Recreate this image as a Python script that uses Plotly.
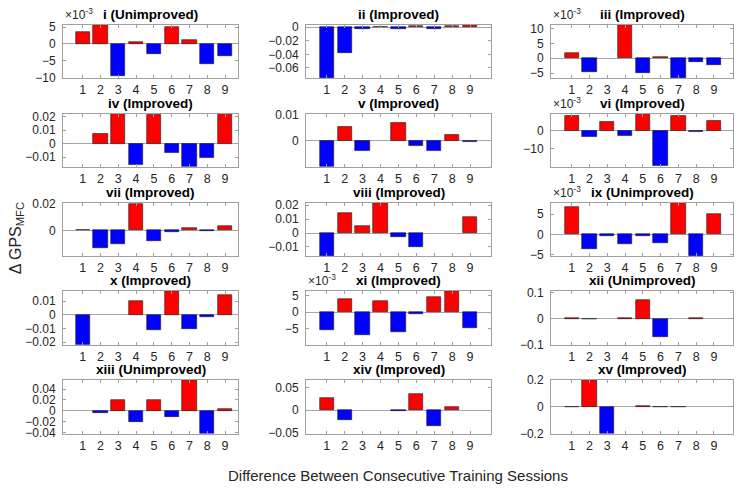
import plotly.graph_objects as go

sessions = [1, 2, 3, 4, 5, 6, 7, 8, 9]
session_labels = ["1", "2", "3", "4", "5", "6", "7", "8", "9"]

titles = ["i (Unimproved)", "ii (Improved)", "iii (Improved)",
          "iv (Improved)", "v (Improved)", "vi (Improved)",
          "vii (Improved)", "viii (Improved)", "ix (Unimproved)",
          "x (Improved)", "xi (Improved)", "xii (Unimproved)",
          "xiii (Unimproved)", "xiv (Improved)", "xv (Improved)"]

v_i = [0.0036, 0.0056, -0.0095, 0.0007, -0.0029, 0.0050, 0.0013, -0.0060, -0.0035]
v_ii = [-0.075, -0.038, -0.0022, 0.0005, -0.0022, 0.0012, -0.0022, 0.0012, 0.0030]
v_iii = [0.0017, -0.0047, 0.0, 0.0112, -0.0050, 0.0006, -0.0067, -0.0013, -0.0022]
v_iv = [0.0, 0.0072, 0.0222, -0.0160, 0.0215, -0.0070, -0.0171, -0.0104, 0.0220]
v_v = [-0.0099, 0.0053, -0.0040, 0.0, 0.0068, -0.0020, -0.0040, 0.0022, -0.0005]
v_vi = [0.0080, -0.0032, 0.0048, -0.0027, 0.0092, -0.0195, 0.0080, -0.0008, 0.0056]
v_vii = [0.0007, -0.0130, -0.0099, 0.0200, -0.0075, -0.0008, 0.0020, -0.0003, 0.0034]
v_viii = [-0.0168, 0.0142, 0.0049, 0.0216, -0.0025, -0.0102, 0.0, 0.0, 0.0117]
v_ix = [0.0067, -0.0035, -0.0003, -0.0024, -0.0004, -0.0021, 0.0077, -0.0054, 0.0049]
v_x = [-0.0221, 0.0, 0.0, 0.0100, -0.0114, 0.0174, -0.0102, -0.0017, 0.0148]
v_xi = [-0.0053, 0.0039, -0.0069, 0.0034, -0.0061, -0.0006, 0.0046, 0.0064, -0.0047]
v_xii = [0.001, -0.001, 0.0, 0.004, 0.071, -0.072, 0.0, 0.002, 0.0]
v_xiii = [0.0, -0.003, 0.020, -0.020, 0.021, -0.012, 0.057, -0.042, 0.003]
v_xiv = [0.026, -0.022, 0.0, 0.0, -0.002, 0.037, -0.035, 0.0065, 0.0]
v_xv = [0.002, 0.2, -0.2, 0.0, 0.004, 0.002, -0.002, 0.0, 0.0]

values = [v_i, v_ii, v_iii, v_iv, v_v, v_vi, v_vii, v_viii, v_ix,
          v_x, v_xi, v_xii, v_xiii, v_xiv, v_xv]

ytickvals = [[-0.01, -0.005, 0, 0.005], [-0.06, -0.04, -0.02, 0], [-0.005, 0, 0.005, 0.01],
             [-0.01, 0, 0.01, 0.02], [-0.01, 0, 0.01], [-0.02, -0.01, 0],
             [-0.02, 0, 0.02], [-0.01, 0, 0.01, 0.02], [-0.005, 0, 0.005],
             [-0.02, -0.01, 0, 0.01], [-0.01, -0.005, 0, 0.005], [-0.1, 0, 0.1],
             [-0.04, -0.02, 0, 0.02, 0.04], [-0.05, 0, 0.05], [-0.2, 0, 0.2]]
yticktext = [["−10", "−5", "0", "5"], ["−0.06", "−0.04", "−0.02", "0"], ["−5", "0", "5", "10"],
             ["−0.01", "0", "0.01", "0.02"], ["−0.01", "0", "0.01"], ["−20", "−10", "0"],
             ["−0.02", "0", "0.02"], ["−0.01", "0", "0.01", "0.02"], ["−5", "0", "5"],
             ["−0.02", "−0.01", "0", "0.01"], ["−10", "−5", "0", "5"], ["−0.1", "0", "0.1"],
             ["−0.04", "−0.02", "0", "0.02", "0.04"], ["−0.05", "0", "0.05"], ["−0.2", "0", "0.2"]]
scaled = [True, False, True, False, False, True, False, False, True,
          False, True, False, False, False, False]

yranges = [[-0.0101, 0.0056], [-0.075, 0.0030], [-0.0067, 0.0112],
           [-0.0171, 0.0222], [-0.0099, 0.0103], [-0.0197, 0.0092],
           [-0.0193, 0.0204], [-0.0168, 0.0216], [-0.0054, 0.0077],
           [-0.0221, 0.0174], [-0.0099, 0.0064], [-0.101, 0.106],
           [-0.042, 0.057], [-0.052, 0.067], [-0.2, 0.2]]

W, H = 737, 495
cols = [(63, 238), (306, 491), (551, 733)]
rows = [(18.5, 73.3), (110, 164.3), (201.7, 256.7), (292.3, 347.7), (383.8, 439)]
xranges = [[-0.11, 9.73], [-0.16, 10.17], [-0.16, 10.07]]

FONT = "Liberation Sans, Arial, sans-serif"
TXT = "#262626"
BOX = "#a0a0a0"

fig = go.Figure()
annotations = []
for k in range(15):
    r, c = divmod(k, 3)
    x0, x1 = cols[c]
    t, b = rows[r]
    sfx = "" if k == 0 else str(k + 1)
    vals = values[k]
    colors = ["#ff0000" if v > 0 else "#0000ff" for v in vals]
    edge_w = [0.6 if v != 0 else 0 for v in vals]
    fig.add_trace(go.Bar(
        x=sessions, y=vals, width=0.8,
        marker=dict(color=colors, line=dict(color="#1a1a1a", width=edge_w)),
        xaxis="x" + sfx, yaxis="y" + sfx, showlegend=False, hoverinfo="skip"))
    fig.update_layout(**{
        "xaxis" + sfx: dict(
            domain=[x0 / W, x1 / W], anchor="y" + sfx, range=xranges[c],
            tickvals=sessions, ticktext=session_labels,
            ticks="inside", ticklen=3, tickcolor=BOX, tickwidth=1,
            showline=True, linecolor=BOX, linewidth=1, mirror="allticks",
            showgrid=False, zeroline=False, ticklabelstandoff=0,
            tickfont=dict(family=FONT, size=12.5, color=TXT), fixedrange=True),
        "yaxis" + sfx: dict(
            domain=[1 - b / H, 1 - t / H], anchor="x" + sfx, range=yranges[k],
            tickvals=ytickvals[k], ticktext=yticktext[k],
            ticks="inside", ticklen=3, tickcolor=BOX, tickwidth=1,
            showline=True, linecolor=BOX, linewidth=1, mirror="allticks",
            showgrid=False, zeroline=True, zerolinecolor="#a6a6a6", zerolinewidth=1,
            ticklabelstandoff=4,
            tickfont=dict(family=FONT, size=12, color=TXT), fixedrange=True),
    })
    annotations.append(dict(
        text="<b>" + titles[k] + "</b>", xref="paper", yref="paper",
        x=(x0 + x1) / 2 / W, y=1 - t / H, xanchor="center", yanchor="bottom",
        yshift=1, showarrow=False, font=dict(family=FONT, size=13.5, color="black")))
    if scaled[k]:
        annotations.append(dict(
            text="×10<sup>-3</sup>", xref="paper", yref="paper",
            x=x0 / W, y=1 - t / H, xanchor="left", yanchor="bottom",
            yshift=1, showarrow=False, font=dict(family=FONT, size=12, color=TXT)))

annotations.append(dict(
    text="Δ GPS<sub>MFC</sub>", xref="paper", yref="paper",
    x=16 / W, y=1 - 238 / H, xanchor="center", yanchor="middle", textangle=-90,
    showarrow=False, font=dict(family=FONT, size=16, color=TXT)))
annotations.append(dict(
    text="Difference Between Consecutive Training Sessions", xref="paper", yref="paper",
    x=398 / W, y=1 - 482 / H, xanchor="center", yanchor="middle",
    showarrow=False, font=dict(family=FONT, size=15, color=TXT)))

fig.update_layout(
    width=W, height=H, margin=dict(l=0, r=0, t=0, b=0),
    paper_bgcolor="white", plot_bgcolor="white", bargap=0,
    annotations=annotations, showlegend=False)

fig.write_html("out.html")
